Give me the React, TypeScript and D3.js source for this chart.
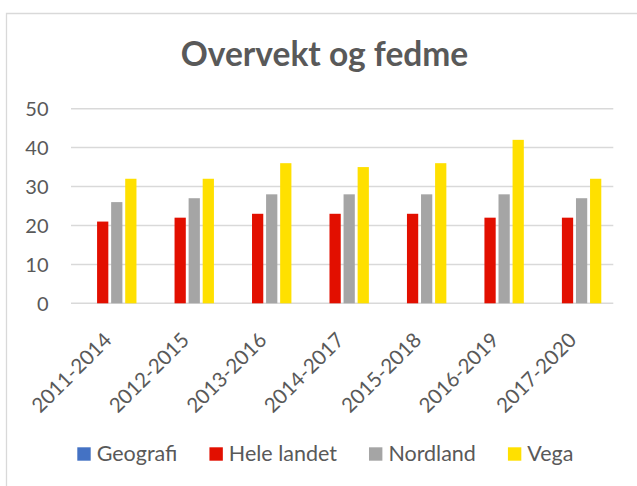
import React, { useEffect, useRef } from 'react';
import * as d3 from 'd3';

const periods = ['2011-2014', '2012-2015', '2013-2016', '2014-2017', '2015-2018', '2016-2019', '2017-2020'];
const seriesNames = ['Geografi', 'Hele landet', 'Nordland', 'Vega'];
const geografi: (number | null)[] = [null, null, null, null, null, null, null];
const heleLandet = [21, 22, 23, 23, 23, 22, 22];
const nordland = [26, 27, 28, 28, 28, 28, 27];
const vega = [32, 32, 36, 35, 36, 42, 32];
const yTicks = [0, 10, 20, 30, 40, 50];

const colors = ['#4472C4', '#E20F00', '#A5A5A5', '#FFE000'];
const textColor = '#595959';
const font = 'Lato, "Open Sans", sans-serif';

export default function App() {
  const svgRef = useRef<SVGSVGElement>(null);

  useEffect(() => {
    if (!svgRef.current) return;
    const svg = d3.select(svgRef.current);
    svg.selectAll('*').remove();

    const width = 637;
    const height = 486;
    const plot = { left: 71, right: 613.3, top: 108.7, bottom: 303.3 };

    // chart area border (only top and left visible in the crop)
    svg.append('path')
      .attr('d', `M6.5,${height} V13.5 H${width}`)
      .attr('fill', 'none')
      .attr('stroke', '#D9D9D9')
      .attr('stroke-width', 1.3);

    svg.append('text')
      .attr('x', 324.5)
      .attr('y', 65.5)
      .attr('text-anchor', 'middle')
      .attr('font-family', font)
      .attr('font-weight', 'bold')
      .attr('font-size', 33.5)
      .attr('fill', textColor)
      .text('Overvekt og fedme');

    const x0 = d3.scaleBand<string>()
      .domain(periods)
      .range([plot.left, plot.right])
      .paddingInner(0.31)
      .paddingOuter(0.155);

    const x1 = d3.scaleBand<string>()
      .domain(seriesNames)
      .range([0, x0.bandwidth()])
      .paddingInner(0.2);

    const y = d3.scaleLinear().domain([0, 50]).range([plot.bottom, plot.top]);

    // gridlines
    svg.append('g')
      .selectAll('line')
      .data(yTicks)
      .join('line')
      .attr('x1', plot.left)
      .attr('x2', plot.right)
      .attr('y1', d => y(d))
      .attr('y2', d => y(d))
      .attr('stroke', '#D9D9D9')
      .attr('stroke-width', 1.5);

    svg.append('g')
      .selectAll('text')
      .data(yTicks)
      .join('text')
      .attr('x', 48.5)
      .attr('y', d => y(d))
      .attr('dy', '0.36em')
      .attr('text-anchor', 'end')
      .attr('font-family', font)
      .attr('font-size', 20)
      .attr('fill', textColor)
      .text(d => d);

    const allSeries = [geografi, heleLandet, nordland, vega];
    const rows = periods.map((p, i) => ({
      period: p,
      values: seriesNames.map((s, j) => ({ name: s, value: allSeries[j][i], color: colors[j] })),
    }));

    const groups = svg.append('g')
      .selectAll('g')
      .data(rows)
      .join('g')
      .attr('transform', d => `translate(${x0(d.period)},0)`);

    groups.selectAll('rect')
      .data(d => d.values.filter(v => v.value != null))
      .join('rect')
      .attr('x', d => x1(d.name)!)
      .attr('width', x1.bandwidth())
      .attr('y', d => y(d.value as number))
      .attr('height', d => plot.bottom - y(d.value as number))
      .attr('fill', d => d.color);

    // rotated category labels
    svg.append('g')
      .selectAll('text')
      .data(periods)
      .join('text')
      .attr('transform', d => `translate(${x0(d)! + x0.bandwidth() / 2 - 7},${plot.bottom + 28}) rotate(-45)`)
      .attr('text-anchor', 'end')
      .attr('dy', '0.7em')
      .attr('font-family', font)
      .attr('font-size', 20.5)
      .attr('fill', textColor)
      .text(d => d);

    // legend
    const legend = svg.append('g');
    let lx = 77.3;
    seriesNames.forEach((name, i) => {
      legend.append('rect')
        .attr('x', lx)
        .attr('y', 447.3)
        .attr('width', 13.4)
        .attr('height', 13.4)
        .attr('fill', colors[i]);
      const t = legend.append('text')
        .attr('x', lx + 19.4)
        .attr('y', 460.5)
        .attr('font-family', font)
        .attr('font-size', 21.5)
        .attr('fill', textColor)
        .text(name);
      const w = (t.node() as SVGTextElement).getComputedTextLength();
      lx = lx + 19.4 + w + 32;
    });
  }, []);

  return (
    <svg
      ref={svgRef}
      width={637}
      height={486}
      style={{ position: 'absolute', left: 0, top: 0, background: '#fff' }}
    />
  );
}
